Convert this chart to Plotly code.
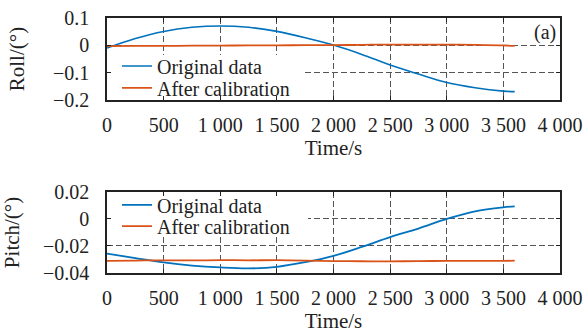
import plotly.graph_objects as go
from plotly.subplots import make_subplots

time_s = [0, 250, 500, 750, 1000, 1250, 1500, 1750, 2000, 2250, 2500, 2750, 3000, 3250, 3500, 3600]
roll_original = [-0.010, 0.025, 0.051, 0.066, 0.071, 0.066, 0.051, 0.028, 0.001, -0.033, -0.072, -0.105, -0.136, -0.155, -0.167, -0.169]
roll_calibrated = [-0.003, -0.002, -0.002, -0.001, -0.001, 0.0, 0.0, 0.001, 0.001, 0.002, 0.003, 0.003, 0.003, 0.002, 0.0, -0.002]
pitch_original = [-0.0256, -0.0290, -0.0322, -0.0345, -0.0359, -0.0366, -0.0354, -0.0320, -0.0273, -0.0207, -0.0134, -0.0071, 0.0, 0.0056, 0.0086, 0.0093]
pitch_calibrated = [-0.0310, -0.0308, -0.0306, -0.0307, -0.0305, -0.0306, -0.0305, -0.0308, -0.0312, -0.0313, -0.0314, -0.0312, -0.0311, -0.0311, -0.0310, -0.0309]

x_tickvals = [0, 500, 1000, 1500, 2000, 2500, 3000, 3500, 4000]
x_ticktext = ["0", "500", "1 000", "1 500", "2 000", "2 500", "3 000", "3 500", "4 000"]
roll_tickvals = [0.1, 0, -0.1, -0.2]
roll_ticktext = ["0.1", "0", "\u22120.1", "\u22120.2"]
pitch_tickvals = [0.02, 0, -0.02, -0.04]
pitch_ticktext = ["0.02", "0", "\u22120.02", "\u22120.04"]

BLUE = "#0072BD"
ORANGE = "#D95319"
FONT = "Liberation Serif"
INK = "#222"

fig = make_subplots(rows=2, cols=1, vertical_spacing=0.0)

fig.add_trace(go.Scatter(x=time_s, y=roll_original, mode="lines", name="Original data",
                         line=dict(color=BLUE, width=1.6, shape="spline"), legend="legend"), row=1, col=1)
fig.add_trace(go.Scatter(x=time_s, y=roll_calibrated, mode="lines", name="After calibration",
                         line=dict(color=ORANGE, width=1.8, shape="spline"), legend="legend2"), row=1, col=1)
fig.add_trace(go.Scatter(x=time_s, y=pitch_original, mode="lines", name="Original data",
                         line=dict(color=BLUE, width=1.8, shape="spline"), legend="legend3"), row=2, col=1)
fig.add_trace(go.Scatter(x=time_s, y=pitch_calibrated, mode="lines", name="After calibration",
                         line=dict(color=ORANGE, width=1.8, shape="spline"), legend="legend4"), row=2, col=1)
for tr in fig.data:
    tr.showlegend = True

axis_common = dict(showline=True, mirror="ticks", linecolor=INK, linewidth=1.5,
                   ticks="inside", ticklen=4, tickcolor=INK, automargin=False,
                   ticklabeloverflow="allow",
                   showgrid=True, gridcolor="#555", griddash="6px,3px", gridwidth=1,
                   zeroline=False, tickfont=dict(family=FONT, size=20, color=INK))

fig.update_xaxes(**axis_common, range=[0, 4000], tickvals=x_tickvals, ticktext=x_ticktext,
                 ticklabelstandoff=6,
                 title=dict(text="Time/s", font=dict(family=FONT, size=21, color=INK), standoff=0))
fig.update_xaxes(title_standoff=6, row=2, col=1)
fig.update_yaxes(**axis_common, ticklabelstandoff=12)
fig.update_yaxes(range=[-0.2, 0.1], tickvals=roll_tickvals, ticktext=roll_ticktext, domain=[0.678, 1.0],
                 title=dict(text="Roll/(\u00b0)", font=dict(family=FONT, size=21, color=INK), standoff=23),
                 row=1, col=1)
fig.update_yaxes(range=[-0.04, 0.02], tickvals=pitch_tickvals, ticktext=pitch_ticktext, domain=[0.0, 0.318],
                 title=dict(text="Pitch/(\u00b0)", font=dict(family=FONT, size=21, color=INK), standoff=23),
                 row=2, col=1)

# white panels behind the legends (cover gridlines, as in the original)
fig.add_shape(type="rect", xref="x", yref="y", x0=20, x1=1730, y0=-0.189, y1=-0.035,
              fillcolor="white", line=dict(width=0), layer="between")
fig.add_shape(type="rect", xref="x2", yref="y2", x0=20, x1=1775, y0=-0.0117, y1=0.0195,
              fillcolor="white", line=dict(width=0), layer="between")

fig.add_annotation(text="(a)", xref="x domain", yref="y domain", x=0.995, y=0.99,
                   xanchor="right", yanchor="top", showarrow=False,
                   font=dict(family=FONT, size=20, color=INK))

legend_common = dict(bgcolor="rgba(0,0,0,0)", borderwidth=0, font=dict(family=FONT, size=20, color=INK),
                     xanchor="left", yanchor="middle", xref="paper", yref="paper", x=0.022, visible=True)
fig.update_layout(
    width=586, height=335,
    margin=dict(l=107, r=26, t=18, b=62),
    plot_bgcolor="white", paper_bgcolor="white",
    showlegend=True,
    legend=dict(**legend_common, y=0.812),
    legend2=dict(**legend_common, y=0.726),
    legend3=dict(**legend_common, y=0.267),
    legend4=dict(**legend_common, y=0.184),
)

fig.write_html("out.html", config={"displayModeBar": False},
               post_script="document.body.style.margin='0px';")
